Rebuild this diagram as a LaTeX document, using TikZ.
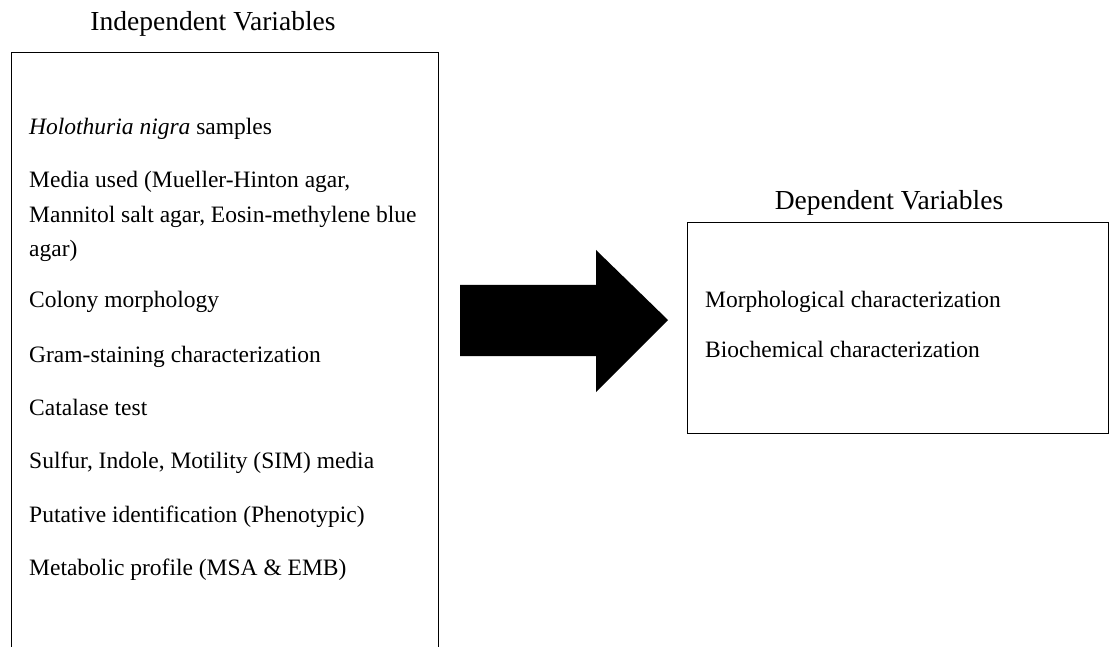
\documentclass[tikz,border=0pt]{standalone}
\usepackage{fontspec}
\setmainfont{Liberation Serif}

\begin{document}
\begin{tikzpicture}[x=1pt,y=-1pt,
    every node/.style={inner sep=0pt},
    boxed/.style={draw,line width=1.3pt,anchor=north west},
    heading/.style={font=\fontsize{27.5}{32}\selectfont,anchor=base},
    item/.style={font=\fontsize{23.5}{30}\selectfont,anchor=base west}]
\useasboundingbox (0,0) rectangle (1109,647);
\clip (0,0) rectangle (1109,647);
% the two frames
\node[boxed,minimum width=427,minimum height=650] (L) at (11,52) {};
\node[boxed,minimum width=421,minimum height=211] (R) at (687,222) {};
\node[heading] (LT) at (213,31) {Independent Variables};
\node[heading] (RT) at (889,210) {Dependent Variables};
% independent variables
\node[item] (A) at (29,135) {\textit{Holothuria nigra} samples};
\node[item] (B1) at (29,188) {Media used (Mueller-Hinton agar,};
\node[item] (B2) at (29,223) {Mannitol salt agar, Eosin-methylene blue};
\node[item] (B3) at (29,257) {agar)};
\node[item] (C) at (29,308) {Colony morphology};
\node[item] (D) at (29,362) {Gram-staining characterization};
\node[item] (E) at (29,415) {Catalase test};
\node[item] (F) at (29,468) {Sulfur, Indole, Motility (SIM) media};
\node[item] (G) at (29,522) {Putative identification (Phenotypic)};
\node[item] (H) at (29,575) {Metabolic profile (MSA \& EMB)};
% dependent variables
\node[item] (M) at (705,307) {Morphological characterization};
\node[item] (N) at (705,357) {Biochemical characterization};
% block arrow
\fill (460,285) -- (596,285) -- (596,250) -- (668,320) -- (596,392) -- (596,356) -- (460,356) -- cycle;
\end{tikzpicture}
\end{document}
